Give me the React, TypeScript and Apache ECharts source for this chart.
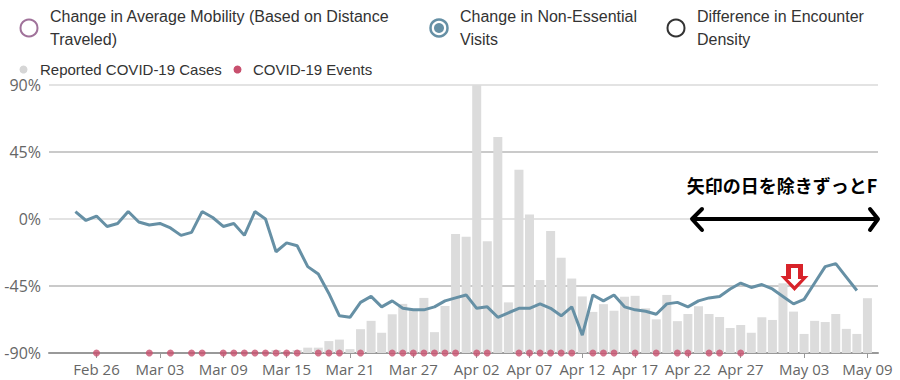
import React, { useEffect, useRef } from "react";
import * as echarts from "echarts";

// Day index 0 = Feb 24 (2020); tick labels at these day indices
const tickLabels = ["Feb 26", "Mar 03", "Mar 09", "Mar 15", "Mar 21", "Mar 27", "Apr 02", "Apr 07", "Apr 12", "Apr 17", "Apr 22", "Apr 27", "May 03", "May 09"];
const tickDays = [2, 8, 14, 20, 26, 32, 38, 43, 48, 53, 58, 63, 69, 75];

// Change in Non-Essential Visits (%), day 0..74
const nonEssentialVisits = [
  5, -1, 2, -5, -3, 5, -2, -4, -3, -6,
  -11, -9, 5, 1, -5, -3, -11, 5, 0, -22,
  -16, -18, -32, -37, -50, -65, -66, -56, -52, -59,
  -55, -60, -61, -61, -59, -55, -53, -51, -60, -59,
  -66, -63, -60, -60, -57, -60, -65, -59, -78, -51,
  -55, -51, -59, -61, -62, -64, -57, -56, -59, -55,
  -53, -52, -47, -43, -46, -44, -47, -52, -57, -54,
  -43, -32, -30, -39, -48,
];

// Reported COVID-19 cases, day 0..75
const reportedCases = [
  0, 0, 0, 0, 0, 0, 0, 0, 0, 0,
  0, 0, 0, 0, 0, 0, 0, 0, 0, 10,
  0, 10, 18, 18, 40, 45, 13, 80, 108, 68,
  130, 165, 145, 185, 70, 158, 400, 390, 1000, 375,
  725, 170, 615, 465, 245, 410, 320, 250, 190, 138,
  164, 142, 189, 192, 150, 113, 195, 107, 131, 157,
  131, 121, 84, 94, 68, 120, 111, 234, 139, 64,
  108, 104, 131, 81, 64, 184,
];

// Days with COVID-19 events
const eventDays = [2, 7, 9, 11, 12, 14, 15, 16, 17, 18, 19, 20, 21, 23, 24, 25, 27, 30, 31, 32, 33, 34, 35, 36, 38, 39, 42, 43, 44, 45, 46, 47, 49, 50, 51, 53, 55, 57, 58, 60, 61, 63];

const LEGEND_FONT = "'Liberation Sans', Arial, sans-serif";
const AXIS_FONT = "'Open Sans', 'Noto Sans', sans-serif";

export default function App() {
  const ref = useRef<HTMLDivElement>(null);

  useEffect(() => {
    if (!ref.current) return;
    const chart = echarts.init(ref.current, null, { renderer: "svg" });

    const legendText = (x: number, y: number, text: string, size: number) => ({
      type: "text",
      x,
      y,
      style: { text, fill: "#333", font: `${size}px ${LEGEND_FONT}`, textVerticalAlign: "middle", textAlign: "left" },
    });

    chart.setOption({
      animation: false,
      grid: { left: 49, right: 22, top: 85, bottom: 27, containLabel: false },
      xAxis: {
        type: "value",
        min: -2.5,
        max: 76,
        axisLine: { show: true, onZero: false, lineStyle: { color: "#999", width: 2 } },
        axisTick: { show: true, customValues: tickDays, length: 5, lineStyle: { color: "#999" } },
        axisLabel: {
          customValues: tickDays,
          formatter: (v: number) => {
            const k = tickDays.indexOf(Math.round(v));
            return k >= 0 ? tickLabels[k] : "";
          },
          color: "#666",
          fontSize: 15,
          fontFamily: AXIS_FONT,
          margin: 8,
        },
        splitLine: { show: false },
      },
      yAxis: [
        {
          type: "value",
          min: -90,
          max: 90,
          interval: 45,
          axisLine: { show: false },
          axisTick: { show: false },
          axisLabel: { formatter: "{value}%", color: "#666", fontSize: 16, fontFamily: AXIS_FONT, margin: 8 },
          splitLine: { lineStyle: { color: ["#999", "#b9b9b9", "#dadada", "#b9b9b9", "#dadada"], width: 1.5 } },
        },
        { type: "value", min: 0, max: 900, show: false, splitLine: { show: false } },
      ],
      series: [
        {
          name: "Reported COVID-19 Cases",
          type: "bar",
          yAxisIndex: 1,
          barWidth: 9,
          itemStyle: { color: "#dcdcdc" },
          data: reportedCases.map((v, i) => [i, v]),
          z: 1,
        },
        {
          name: "Change in Non-Essential Visits",
          type: "line",
          yAxisIndex: 0,
          showSymbol: false,
          symbol: "none",
          lineStyle: { color: "#6690a5", width: 3 },
          data: nonEssentialVisits.map((v, i) => [i, v]),
          z: 3,
        },
        {
          name: "COVID-19 Events",
          type: "scatter",
          yAxisIndex: 0,
          symbolSize: 7,
          itemStyle: { color: "#c8506e" },
          clip: false,
          data: eventDays.map((d) => [d, -90]),
          z: 4,
        },
      ],
      graphic: [
        // legend row 1
        { type: "circle", shape: { cx: 29, cy: 28, r: 8.5 }, style: { fill: "none", stroke: "#a0729a", lineWidth: 2 } },
        legendText(50, 16, "Change in Average Mobility (Based on Distance", 16),
        legendText(50, 39, "Traveled)", 16),
        { type: "circle", shape: { cx: 439, cy: 28, r: 8.5 }, style: { fill: "none", stroke: "#6690a5", lineWidth: 2.5 } },
        { type: "circle", shape: { cx: 439, cy: 28, r: 5 }, style: { fill: "#6690a5" } },
        legendText(460, 16, "Change in Non-Essential", 16),
        legendText(460, 39, "Visits", 16),
        { type: "circle", shape: { cx: 676, cy: 28, r: 8.5 }, style: { fill: "none", stroke: "#333", lineWidth: 2 } },
        legendText(697, 16, "Difference in Encounter", 16),
        legendText(697, 39, "Density", 16),
        // legend row 2
        { type: "circle", shape: { cx: 23.5, cy: 69.5, r: 4 }, style: { fill: "#d6d6d6" } },
        legendText(40, 69.5, "Reported COVID-19 Cases", 15),
        { type: "circle", shape: { cx: 237.5, cy: 69.5, r: 4 }, style: { fill: "#c8506e" } },
        legendText(253, 69.5, "COVID-19 Events", 15),
        // annotation
        {
          type: "text",
          x: 782,
          y: 185,
          z: 20,
          style: { text: "矢印の日を除きずっとF", fill: "#000", font: "bold 18px 'Noto Sans CJK JP', sans-serif", textAlign: "center", textVerticalAlign: "middle" },
        },
        { type: "line", z: 20, shape: { x1: 694, y1: 219, x2: 876, y2: 219 }, style: { stroke: "#000", lineWidth: 4 } },
        { type: "polyline", z: 20, shape: { points: [[702, 209], [692, 219], [702, 230]] }, style: { stroke: "#000", lineWidth: 4, fill: "none", lineCap: "round", lineJoin: "round" } },
        { type: "polyline", z: 20, shape: { points: [[870, 209], [878, 219], [870, 230]] }, style: { stroke: "#000", lineWidth: 4, fill: "none", lineCap: "round", lineJoin: "round" } },
        {
          type: "polygon",
          z: 20,
          shape: { points: [[786, 264], [803, 264], [803, 276], [808.5, 276], [794.5, 291], [780.5, 276], [786, 276]] },
          style: { fill: "#d8232a" },
        },
        {
          type: "polygon",
          z: 21,
          shape: { points: [[791, 268], [798, 268], [798, 279], [801.5, 279], [794.5, 286], [787.5, 279], [791, 279]] },
          style: { fill: "#fff" },
        },
      ],
    });

    return () => chart.dispose();
  }, []);

  return <div ref={ref} style={{ position: "fixed", left: 0, top: 0, width: 900, height: 380, background: "#fff" }} />;
}
